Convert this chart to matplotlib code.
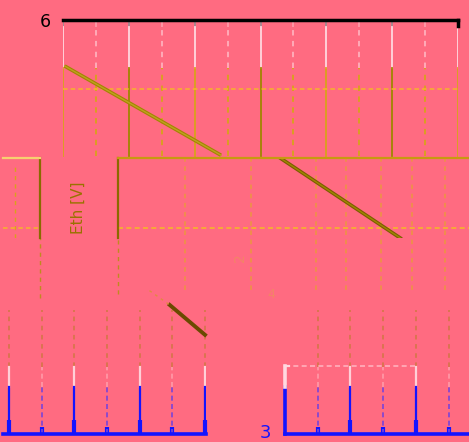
import matplotlib
matplotlib.use("Agg")
import matplotlib.pyplot as plt
import numpy as np

W, H = 469, 442
BG = '#ff6b81'
GOLD = '#d9a21c'
OLIVE = '#a08600'
DARK = '#7a5c00'
BLUE = '#1414ff'

# ---- data ----
top_grid_x = list(range(0, 13))          # panel A grid positions
top_line_x = [0.05, 4.8]
top_line_y = [4.0, 0.12]
top_hline_y = 3.0
top_ylabel = ['6']

mid_line_x = [6.6, 10.25]
mid_line_y = [4.0, 0.0]
mid_hline_y = 0.5
mid_vlines = [3.7, 5.7, 7.7, 8.6, 9.65, 10.6, 11.6]

bot_grid_x = list(range(0, 7))
bot_line_x = [4.92, 6.0]
bot_line_y = [0.963, 0.74]

br_grid_x = list(range(0, 6))
br_tick_label = ['3']
ylabel_text = 'Eth [V]'

fig = plt.figure(figsize=(W / 100, H / 100), dpi=100, facecolor=BG)


def add_px(l, t, r, b):
    ax = fig.add_axes([l / W, 1 - b / H, (r - l) / W, (b - t) / H])
    ax.set_facecolor('none')
    for s in ax.spines.values():
        s.set_visible(False)
    ax.set_xticks([]); ax.set_yticks([])
    return ax


# ---- panel A (top) ----
axA = add_px(63, 20, 458, 158)
axA.set_xlim(0, 12); axA.set_ylim(0, 6)
for x in top_grid_x:
    solid = (x % 2 == 0)
    ls = '-' if solid else (0, (3, 3))
    axA.plot([x, x], [5.7, 6], color='#a08890' if solid else '#ff9aa8', lw=1.3, ls=ls)
    axA.plot([x, x], [3.9, 5.7], color='#ffd8e0' if solid else '#ffb0bc', lw=1.3, ls=ls)
    axA.plot([x, x], [0.1, 3.9], color=OLIVE if (solid and x % 4 == 2) else GOLD, lw=1.3, ls=ls)
axA.axhline(top_hline_y, color='#f5b52a', lw=1.1, ls=(0, (3, 2)))
axA.plot(top_line_x, top_line_y, color=OLIVE, lw=2.6, solid_capstyle='butt')
axA.plot(top_line_x, top_line_y, color='#c0a020', lw=1.0)
axA.spines['top'].set_visible(True)
axA.spines['top'].set_color('black')
axA.spines['top'].set_linewidth(2.5)
axA.plot([12, 12], [5.75, 6], color='black', lw=2.5, clip_on=False)
axA.set_yticks([6])
axA.set_yticklabels(top_ylabel, fontsize=12.5, color='black')
axA.tick_params(axis='y', length=0, pad=9)

# ---- panel B (middle) ----
axB = add_px(118, 158, 469, 238)
axB.set_xlim(1.67, 12.34); axB.set_ylim(0, 4)
for x in mid_vlines:
    axB.plot([x, x], [-2.6, 4], color='#e8a030', lw=1.1, ls=(0, (3, 3)), clip_on=False, alpha=0.8)
axB.axhline(mid_hline_y, color='#f5b52a', lw=1.2, ls=(0, (3, 2)))
axB.plot(mid_line_x, mid_line_y, color=DARK, lw=2.6)
axB.plot(mid_line_x, mid_line_y, color=OLIVE, lw=1.0)
axB.spines['top'].set_visible(True)
axB.spines['top'].set_color('#c79a10'); axB.spines['top'].set_linewidth(1.6)
axB.spines['left'].set_visible(True)
axB.spines['left'].set_color('#8a6a00'); axB.spines['left'].set_linewidth(1.6)
axB.plot([1.67, 1.67], [-2.8, 0], color='#c08a20', lw=1.0, ls=(0, (3, 3)), clip_on=False)

# ---- small left box ----
axL = add_px(3, 158, 40, 238)
axL.set_xlim(0, 1); axL.set_ylim(0, 1)
axL.spines['top'].set_visible(True)
axL.spines['top'].set_color('#f7d070'); axL.spines['top'].set_linewidth(1.6)
axL.spines['right'].set_visible(True)
axL.spines['right'].set_color('#8a6a00'); axL.spines['right'].set_linewidth(1.6)
axL.axhline(0.13, color='#f5b52a', lw=1.1, ls=(0, (3, 2)))
axL.plot([0.33, 0.33], [0, 0.92], color=GOLD, lw=1.0, ls=(0, (3, 3)))
axL.plot([1, 1], [-0.75, 0], color='#c08a20', lw=1.0, ls=(0, (3, 3)), clip_on=False)

fig.text(78 / W, 1 - 208 / H, ylabel_text, rotation=90, ha='center', va='center',
         fontsize=11, color='#9a7200')

# ---- panel C (bottom left) ----
def bottom_panel(ax, xs):
    for x in xs:
        solid = (x % 2 == 0)
        ls = '-' if solid else (0, (3, 2))
        ax.plot([x, x], [0.5, 0.925], color='#c87838', lw=1.1, ls=(0, (3, 3)), alpha=0.85)
        ax.plot([x, x], [0.35, 0.5], color='#ffd0d8' if solid else '#ff9aa8', lw=1.6 if solid else 1.2,
                ls=ls)
        ax.plot([x, x], [0, 0.35], color=BLUE if solid else '#7a44d8', lw=1.6 if solid else 1.2, ls=ls)
    ax.set_xticks([x for x in xs if x % 2 == 0])
    ax.set_xticks([x for x in xs if x % 2 == 1], minor=True)
    ax.set_xticklabels([])
    ax.tick_params(axis='x', which='major', direction='in', length=10, width=3, color=BLUE)
    ax.tick_params(axis='x', which='minor', direction='in', length=5, width=3, color=BLUE)
    ax.spines['bottom'].set_visible(True)
    ax.spines['bottom'].set_color(BLUE); ax.spines['bottom'].set_linewidth(2.6)


axC = add_px(3, 300, 206, 434)
axC.set_xlim(-6 / 32.7, 6 + 1 / 32.7); axC.set_ylim(0, 1)
bottom_panel(axC, bot_grid_x)
axC.plot(bot_line_x, bot_line_y, color='#6a4a00', lw=2.8, clip_on=False)
axC.plot([4.3, 4.92], [1.07, 0.963], color='#e08a40', lw=1.0, ls=(0, (2, 3)), clip_on=False)

# ---- panel D (bottom right) ----
axD = add_px(285, 300, 469, 434)
axD.set_xlim(0, 184 / 32.7); axD.set_ylim(0, 1)
bottom_panel(axD, br_grid_x[1:])
axD.plot([0, 4], [0.507, 0.507], color='#ffb0bc', lw=1.2, ls=(0, (3, 2)))
axD.plot([0, 0], [0, 0.35], color=BLUE, lw=2.6, clip_on=False, solid_capstyle='projecting')
axD.plot([0, 0], [0.35, 0.507], color='#ffd8e0', lw=2.6, clip_on=False)
axD.plot([0, 0.12], [0.507, 0.507], color='#ffd8e0', lw=1.6, clip_on=False)
axD.set_yticks([0.02])
axD.set_yticklabels(br_tick_label, fontsize=13, color=BLUE)
axD.tick_params(axis='y', length=0, pad=10)

# faint stray glyphs
fig.text(240 / W, 1 - 258 / H, '2', rotation=90, fontsize=10, color='#f08a60', ha='center', va='center', alpha=0.8)
fig.text(271 / W, 1 - 295 / H, '4', fontsize=9, color='#f08a60', ha='center', va='center', alpha=0.8)

fig.savefig('out.png', dpi=100, facecolor=BG)
